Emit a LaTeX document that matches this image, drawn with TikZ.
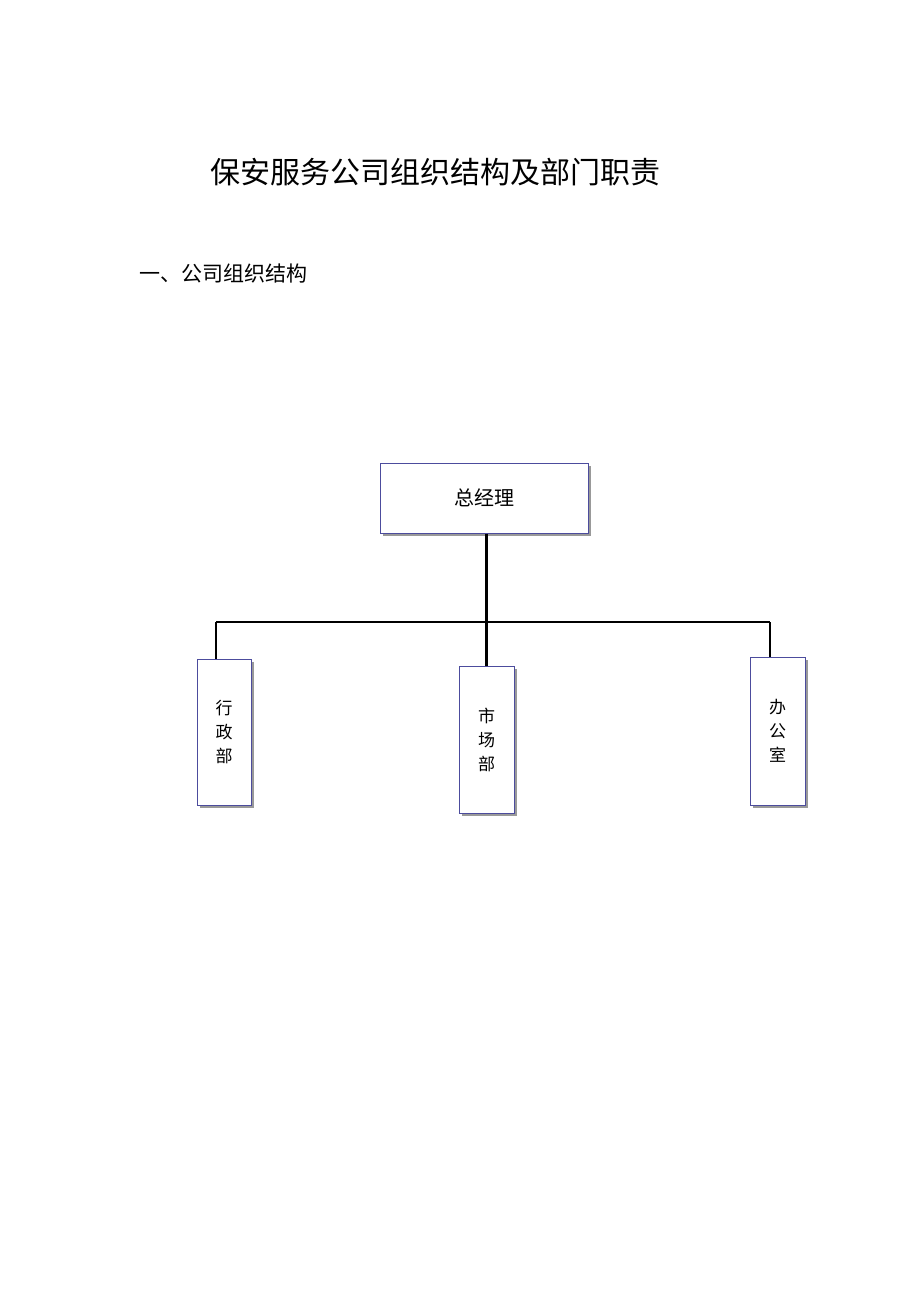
\documentclass[tikz,border=0pt]{standalone}
\usepackage{fontspec}
\newfontfamily\cjk{Noto Sans CJK SC}
\usetikzlibrary{positioning,shadows}
\tikzset{
  unitbox/.style={draw=black!55!blue!70, line width=1pt, fill=white, font=\cjk\fontsize{17}{24}\selectfont,
    drop shadow={shadow xshift=3pt, shadow yshift=-3pt, fill=black!50, opacity=.8}, inner sep=0pt},
  link/.style={line width=2.4pt, black}
}
\begin{document}
\begin{tikzpicture}[x=1pt,y=-1pt]
\useasboundingbox (0,0) rectangle (920,1303);
% titles
\node (title) at (435,172) {\cjk\fontsize{30}{36}\selectfont 保安服务公司组织结构及部门职责};
\node[anchor=west] (sub) at (136,274) {\cjk\fontsize{21}{24}\selectfont 一、公司组织结构};
% boxes
\node[unitbox, minimum width=208pt, minimum height=70pt, font=\cjk\fontsize{20}{24}\selectfont] (gm) at (484,498) {总经理};
\node[unitbox, minimum width=54pt, minimum height=146pt, align=center] (xz) at (224,732) {行\\政\\部};
\node[unitbox, minimum width=55pt, minimum height=147pt, align=center] (sc) at (486.5,739.5) {市\\场\\部};
\node[unitbox, minimum width=55pt, minimum height=148pt, align=center] (bg) at (777.5,731) {办\\公\\室};
% connectors
\coordinate (jl) at (216,622);
\coordinate (jr) at (770,622);
\draw[link] (gm.south -| sc.north) -- (sc.north);
\draw[link] (jl) -- (jr);
\draw[link] (jl) -- (jl |- xz.north);
\draw[link] (jr) -- (jr |- bg.north);
\end{tikzpicture}
\end{document}
